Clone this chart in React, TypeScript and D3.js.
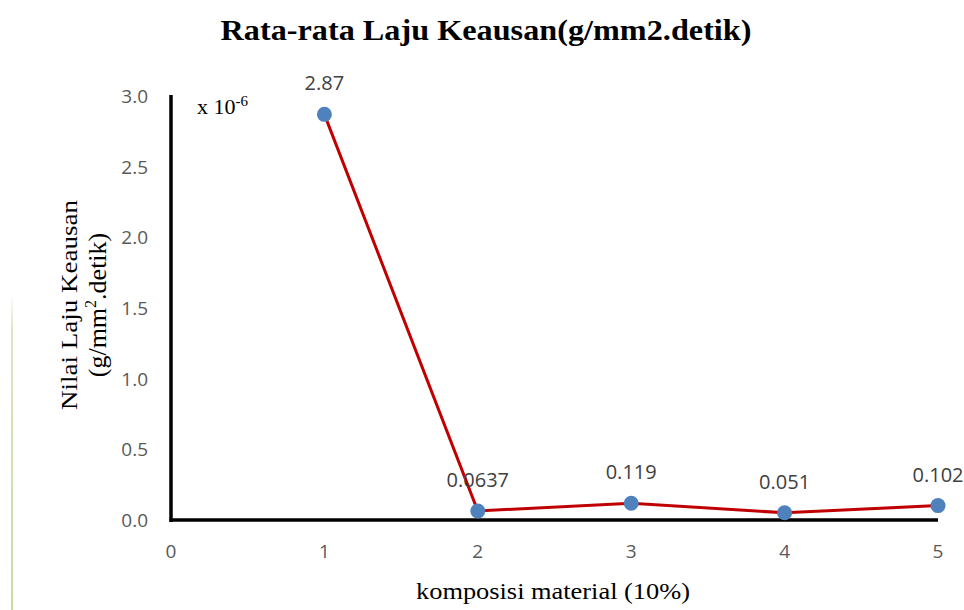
import React from "react";
import * as d3 from "d3";

const composition = [1, 2, 3, 4, 5];
const wearRate = [2.87, 0.0637, 0.119, 0.051, 0.102];
const valueLabels = ["2.87", "0.0637", "0.119", "0.051", "0.102"];
const xTicks = [0, 1, 2, 3, 4, 5];
const yTicks = [0, 0.5, 1.0, 1.5, 2.0, 2.5, 3.0];

export default function App() {
  const W = 964, H = 610;
  const x = d3.scaleLinear().domain([0, 5]).range([171, 938]);
  const y = d3.scaleLinear().domain([0, 3]).range([520, 96]);
  const line = d3.line<number>().x((_, i) => x(composition[i])).y((d) => y(d));
  const sans = "'Open Sans', 'Noto Sans', sans-serif";
  const serif = "'Liberation Serif', 'DejaVu Serif', serif";
  return (
    <svg width={W} height={H} style={{ position: "absolute", left: 0, top: 0, background: "#fff" }}>
      <defs>
        <linearGradient id="gl" x1="0" y1="0" x2="0" y2="1">
          <stop offset="0" stopColor="#ffffff" />
          <stop offset="0.12" stopColor="#dbe6c4" />
          <stop offset="1" stopColor="#c8dba4" />
        </linearGradient>
      </defs>
      <rect x={11} y={292} width={2} height={318} fill="url(#gl)" />
      <text x={486} y={40} textAnchor="middle" fontFamily={serif} fontWeight="bold" fontSize={30} fill="#000"
        textLength={531} lengthAdjust="spacingAndGlyphs">
        Rata-rata Laju Keausan(g/mm2.detik)
      </text>
      {yTicks.map((t) => (
        <text key={"y" + t} x={148} y={y(t) + 7} textAnchor="end" fontFamily={sans} fontSize={19} fill="#595959">
          {t.toFixed(1)}
        </text>
      ))}
      {xTicks.map((t) => (
        <text key={"x" + t} x={x(t)} y={558} textAnchor="middle" fontFamily={sans} fontSize={19} fill="#595959">
          {t}
        </text>
      ))}
      <line x1={x(0)} x2={x(0)} y1={y(3) - 1} y2={y(0) + 2} stroke="#000" strokeWidth={3.5} />
      <line x1={x(0) - 1.5} x2={x(5)} y1={y(0)} y2={y(0)} stroke="#000" strokeWidth={3.5} />
      <path d={line(wearRate) || ""} fill="none" stroke="#c00000" strokeWidth={3} />
      {wearRate.map((v, i) => (
        <circle key={"c" + i} cx={x(composition[i])} cy={y(v)} r={7.5} fill="#4f81bd" />
      ))}
      {wearRate.map((v, i) => (
        <text key={"l" + i} x={x(composition[i])} y={y(v) - 24} textAnchor="middle" fontFamily={sans} fontSize={20} fill="#404040">
          {valueLabels[i]}
        </text>
      ))}
      <text x={197} y={114} fontFamily={serif} fontSize={22} fill="#000">
        x 10<tspan dy={-8} fontSize={15}>-6</tspan>
      </text>
      <g transform="translate(77,305) rotate(-90)">
        <text x={0} y={0} textAnchor="middle" fontFamily={serif} fontSize={24} fill="#000"
          textLength={210} lengthAdjust="spacingAndGlyphs">Nilai Laju Keausan</text>
        <text x={0} y={29} textAnchor="middle" fontFamily={serif} fontSize={26} fill="#000">
          (g/mm<tspan dy={-10} fontSize={16}>2</tspan><tspan dy={10}>.detik)</tspan>
        </text>
      </g>
      <text x={553} y={599} textAnchor="middle" fontFamily={serif} fontSize={24} fill="#000"
        textLength={274} lengthAdjust="spacingAndGlyphs">
        komposisi material (10%)
      </text>
    </svg>
  );
}
